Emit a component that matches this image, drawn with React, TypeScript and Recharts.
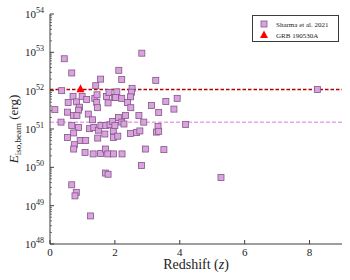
import { ScatterChart, Scatter, XAxis, YAxis, ReferenceLine } from "recharts";

// Sharma et al. 2021 sample (redshift, E_iso,beam in erg)
const sharmaZ = [
  0.44, 0.67, 0.36, 1.41, 1.56, 0.71, 0.56, 0.82, 0.99, 1.13,
  0.91, 1.38, 1.45, 1.44, 1.46, 1.74, 1.82, 1.79, 1.98, 0.15,
  2.83, 2.12, 2.21, 3.26, 2.53, 2.06, 2.51, 2.02, 2.21, 2.48,
  2.39, 3.57, 3.92, 3.13, 2.49, 3.82, 0.54, 0.88, 0.72, 0.83,
  1.18, 1.31, 0.34, 0.67, 0.88, 1.22, 1.35, 1.49, 1.57, 1.72,
  1.85, 1.95, 0.54, 0.73, 1.47, 1.69, 1.96, 0.93, 1.1, 0.75,
  0.73, 1.08, 1.33, 1.56, 1.71, 1.78, 1.96, 1.71, 1.79, 3.35,
  2.11, 2.33, 2.74, 1.93, 2.21, 2.28, 2.0, 2.89, 3.33, 2.09,
  2.48, 2.67, 2.77, 3.28, 3.35, 2.94, 3.51, 2.22, 2.82, 0.67,
  0.81, 0.77, 1.25, 5.27, 4.18, 8.24,
];
const sharmaE = [
  6.8e52, 2.9e52, 1.0e52, 1.35e52, 2.0e52, 7.1e51, 4.9e51, 5.1e51, 7.1e51, 5.9e51,
  3.7e51, 6.3e51, 7.8e51, 4.9e51, 3.6e51, 7.1e51, 8.9e51, 4.8e51, 6.6e51, 3.2e51,
  9.5e52, 3.4e52, 1.95e52, 1.86e52, 1.15e52, 9.3e51, 9.1e51, 6.6e51, 6.3e51, 6.9e51,
  4.9e51, 5.25e51, 6.3e51, 4.1e51, 3.6e51, 3.3e51, 2.75e51, 3.1e51, 2.24e51, 2.24e51,
  2.45e51, 1.74e51, 1.51e51, 1.23e51, 1.1e51, 1.02e51, 1.1e51, 9.3e50, 1.23e51, 1.23e51,
  1.29e51, 8.9e50, 6.0e50, 7.9e50, 5.8e50, 7.4e50, 6.0e50, 5.0e50, 5.0e50, 3.9e50,
  3.0e50, 2.45e50, 2.24e50, 2.3e50, 3.0e50, 2.24e50, 2.24e50, 7.1e49, 6.6e49, 2.7e51,
  2.0e51, 2.24e51, 2.24e51, 1.58e51, 1.51e51, 1.35e51, 1.23e51, 1.51e51, 1.17e51, 6.5e50,
  7.6e50, 8.1e50, 8.9e50, 8.3e50, 8.7e50, 3.0e50, 2.9e50, 2.24e50, 1.12e50, 3.5e49,
  2.2e49, 1.8e49, 5.4e48, 5.4e49, 1.32e51, 1.07e52,
];

const grbZ = [0.94];
const grbE = [1.12e52];

const grbLevel = 1.07e52;
const sampleLevel = 1.5e51;

const xTicks = [0, 2, 4, 6, 8];
const yDecades = [48, 49, 50, 51, 52, 53, 54];

const FONT = "'Liberation Serif', 'DejaVu Serif', serif";
const AXIS = "#3c3c3c";
const PLUM = "#dba3dd";
const PLUM_EDGE = "#82558a";

const sharmaData = sharmaZ.map((z, i) => ({ z, e: sharmaE[i] }));
const grbData = grbZ.map((z, i) => ({ z, e: grbE[i] }));

// major + minor log ticks
const yTicks: number[] = [];
yDecades.forEach((d, i) => {
  if (i === yDecades.length - 1) {
    yTicks.push(Math.pow(10, d));
    return;
  }
  for (let m = 1; m <= 9; m++) yTicks.push(m * Math.pow(10, d));
});

function isDecade(v: number) {
  const l = Math.log10(v);
  return Math.abs(l - Math.round(l)) < 1e-6;
}

function BottomTick(props: any) {
  const { x, y, payload } = props;
  return (
    <g>
      <line x1={x} y1={y} x2={x} y2={y - 4} stroke={AXIS} />
      <text x={x} y={y + 12} textAnchor="middle" fontSize={11} fontFamily={FONT} fill="#222">
        {payload.value}
      </text>
    </g>
  );
}

function TopTick(props: any) {
  const { x, y } = props;
  return <line x1={x} y1={y} x2={x} y2={y + 4} stroke={AXIS} />;
}

function LeftTick(props: any) {
  const { x, y, payload } = props;
  const major = isDecade(payload.value);
  return (
    <g>
      <line x1={x} y1={y} x2={x + (major ? 4 : 2)} y2={y} stroke={AXIS} strokeWidth={major ? 1 : 0.7} />
      {major && (
        <text x={x - 6} y={y + 4} textAnchor="end" fontSize={11} fontFamily={FONT} fill="#222">
          10
          <tspan dy={-5} fontSize={8}>
            {Math.round(Math.log10(payload.value))}
          </tspan>
        </text>
      )}
    </g>
  );
}

function RightTick(props: any) {
  const { x, y, payload } = props;
  const major = isDecade(payload.value);
  return (
    <line x1={x} y1={y} x2={x - (major ? 4 : 2)} y2={y} stroke={AXIS} strokeWidth={major ? 1 : 0.7} />
  );
}

function SquareMark(props: any) {
  const { cx, cy } = props;
  return (
    <rect
      x={cx - 3}
      y={cy - 3}
      width={6}
      height={6}
      fill={PLUM}
      stroke={PLUM_EDGE}
      strokeWidth={0.8}
    />
  );
}

function TriangleMark(props: any) {
  const { cx, cy } = props;
  return (
    <polygon
      points={`${cx},${cy - 4.5} ${cx - 4},${cy + 3.5} ${cx + 4},${cy + 3.5}`}
      fill="#ff0000"
    />
  );
}

function XLabel(props: any) {
  const vb = props.viewBox || { x: 50, y: 244, width: 292, height: 36 };
  return (
    <text
      x={vb.x + vb.width / 2}
      y={vb.y + 25}
      textAnchor="middle"
      fontSize={14}
      fontFamily={FONT}
      fill="#222"
    >
      Redshift (<tspan fontStyle="italic">z</tspan>)
    </text>
  );
}

function YLabel(props: any) {
  const vb = props.viewBox || { x: 0, y: 14, width: 50, height: 230 };
  const cx = vb.x + 17.5;
  const cy = vb.y + vb.height / 2;
  return (
    <text
      x={cx}
      y={cy}
      transform={`rotate(-90, ${cx}, ${cy})`}
      textAnchor="middle"
      fontSize={13}
      fontFamily={FONT}
      fill="#222"
    >
      <tspan fontStyle="italic">E</tspan>
      <tspan fontSize={9} dy={3}>
        iso,beam
      </tspan>
      <tspan dy={-3}> (erg)</tspan>
    </text>
  );
}

function LegendBox() {
  return (
    <div
      style={{
        position: "absolute",
        left: 252,
        top: 15,
        width: 85,
        height: 25,
        border: `0.8px solid ${AXIS}`,
        background: "#fff",
        fontFamily: FONT,
        fontSize: 7,
        color: "#222",
      }}
    >
      <svg width={85} height={25} style={{ position: "absolute", left: 0, top: 0 }}>
        <rect x={8} y={5} width={6} height={6} fill={PLUM} stroke={PLUM_EDGE} strokeWidth={0.8} />
        <text x={23} y={10.5} fontSize={7} fontFamily={FONT} fill="#222">
          Sharma et al. 2021
        </text>
        <polygon points="11,14.5 7,22 15,22" fill="#ff0000" />
        <text x={23} y={21.5} fontSize={7} fontFamily={FONT} fill="#222">
          GRB 190530A
        </text>
      </svg>
    </div>
  );
}

export default function App() {
  return (
    <div style={{ position: "absolute", left: 0, top: 0, width: 350, height: 280, background: "#fff" }}>
      <ScatterChart width={350} height={280} margin={{ top: 14, right: 8, bottom: 0, left: 0 }}>
        <XAxis
          xAxisId="b"
          type="number"
          dataKey="z"
          domain={[0, 9]}
          ticks={xTicks}
          interval={0}
          height={36}
          tickSize={0}
          tickMargin={0}
          tickLine={false}
          tick={(p: any) => <BottomTick {...p} />}
          axisLine={{ stroke: AXIS }}
          allowDataOverflow
          label={{ content: (p: any) => <XLabel {...p} /> }}
        />
        <XAxis
          xAxisId="t"
          orientation="top"
          type="number"
          domain={[0, 9]}
          ticks={xTicks}
          interval={0}
          height={0}
          tickSize={0}
          tickMargin={0}
          tickLine={false}
          tick={(p: any) => <TopTick {...p} />}
          axisLine={{ stroke: AXIS }}
          allowDataOverflow
        />
        <YAxis
          yAxisId="l"
          type="number"
          dataKey="e"
          scale="log"
          domain={[1e48, 1e54]}
          ticks={yTicks}
          interval={0}
          width={50}
          tickSize={0}
          tickMargin={0}
          tickLine={false}
          tick={(p: any) => <LeftTick {...p} />}
          axisLine={{ stroke: AXIS }}
          allowDataOverflow
          label={{ content: (p: any) => <YLabel {...p} /> }}
        />
        <YAxis
          yAxisId="r"
          orientation="right"
          type="number"
          scale="log"
          domain={[1e48, 1e54]}
          ticks={yTicks}
          interval={0}
          width={0}
          tickSize={0}
          tickMargin={0}
          tickLine={false}
          tick={(p: any) => <RightTick {...p} />}
          axisLine={{ stroke: AXIS }}
          allowDataOverflow
        />
        <ReferenceLine
          xAxisId="b"
          yAxisId="l"
          y={sampleLevel}
          stroke="#eaa6ea"
          strokeWidth={1.5}
          strokeDasharray="4 2"
        />
        <ReferenceLine
          xAxisId="b"
          yAxisId="l"
          y={grbLevel}
          stroke="#b00000"
          strokeWidth={1.6}
          strokeDasharray="3.5 2"
        />
        <Scatter
          name="Sharma et al. 2021"
          data={sharmaData}
          xAxisId="b"
          yAxisId="l"
          shape={SquareMark}
          isAnimationActive={false}
        />
        <Scatter
          name="GRB 190530A"
          data={grbData}
          xAxisId="b"
          yAxisId="l"
          shape={TriangleMark}
          isAnimationActive={false}
        />
      </ScatterChart>
      <LegendBox />
    </div>
  );
}
